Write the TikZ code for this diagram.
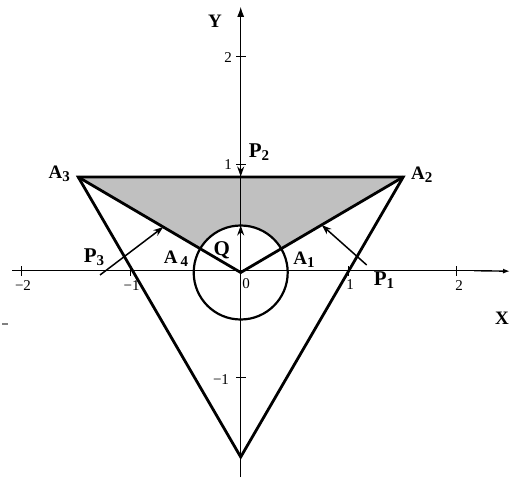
\documentclass[tikz,border=0pt]{standalone}
\usepackage{fontspec}
\setmainfont{Liberation Serif}
\usetikzlibrary{arrows.meta,calc}
\definecolor{regiongray}{RGB}{192,192,192}
\newcommand\subd[1]{\raisebox{-0.35ex}{\fontsize{15}{15}\selectfont #1}}
\tikzset{
  axis/.style={line width=0.8pt,black},
  thick line/.style={line width=2.8pt,black,line join=miter},
  force/.style={line width=1.5pt,-{Stealth[length=10pt,width=7pt]}},
  lbl/.style={inner sep=0pt,font=\fontsize{19}{21}\selectfont\bfseries},
  plbl/.style={inner sep=0pt,font=\fontsize{21}{23}\selectfont\bfseries},
  tlbl/.style={inner sep=0pt,font=\fontsize{15}{17}\selectfont},
}
\begin{document}
\begin{tikzpicture}[x=1pt,y=1pt]
\useasboundingbox (0,0) rectangle (510,477);
% key points
\coordinate (A3) at (78.2,300);
\coordinate (A2) at (403.2,300);
\coordinate (B) at (240.7,20);
\coordinate (C) at (240.7,204.5);
\coordinate (A4) at ($(C)!47pt!(A3)$);
\coordinate (A1) at ($(C)!47pt!(A2)$);
% shaded region
\fill[fill=regiongray] (A3) -- (A2) -- (A1) arc[start angle=30.44,end angle=149.56,radius=47] -- cycle;
% axes
\coordinate (xs) at (12,206.3);
\coordinate (xe) at (474,206.3);
\coordinate (xt) at (510,205.8);
\coordinate (ys) at (240.7,0);
\coordinate (ye) at (240.7,470);
\draw[axis] (xs) -- (xe);
\draw[line width=1.4pt,-{Latex[length=7pt,width=5pt]}] (xe) -- (xt);
\draw[axis,-{Latex[length=10pt,width=7pt]}] (ys) -- (ye);
% ticks
\foreach \x in {21.7,130.7,348.5,456.7} \draw[axis] (\x,201.3) -- (\x,211.3);
\foreach \y in {420.3,313,99.3} \draw[axis] (236,\y) -- (245.5,\y);
% tick labels
\node[tlbl] (tx1) at (23,191) {−2};
\node[tlbl] (tx2) at (131.7,191) {−1};
\node[tlbl] (tx3) at (246,193) {0};
\node[tlbl] (tx4) at (350,192) {1};
\node[tlbl] (tx5) at (459,191) {2};
\node[tlbl] (ty1) at (228,419) {2};
\node[tlbl] (ty2) at (228,312) {1};
\node[tlbl] (ty3) at (221,97.5) {−1};
% triangle and inner lines
\draw[thick line] (A3) -- (A2) -- (B) -- cycle;
\draw[thick line] (A3) -- (C) -- (A2);
% circle
\draw[line width=2.2pt] (C) circle[radius=47];
% forces
\coordinate (p2s) at (240.7,354);
\coordinate (p2e) at (240.7,300.5);
\draw[force] (p2s) -- (p2e);
\coordinate (qs) at (240.7,181);
\coordinate (qe) at (240.7,251.5);
\draw[force] (qs) -- (qe);
\coordinate (p1s) at (366.7,212);
\coordinate (p1e) at (321.7,252);
\draw[force] (p1s) -- (p1e);
\coordinate (p3s) at (100,202);
\coordinate (p3e) at (163.3,250);
\draw[force] (p3s) -- (p3e);
% labels
\node[lbl] (lY) at (215,456) {Y};
\node[lbl] (lX) at (502,159) {X};
\node[plbl] (lP2) at (259,325) {P\subd{2}};
\node[plbl] (lP1) at (384,197) {P\subd{1}};
\node[plbl] (lP3) at (94,220) {P\subd{3}};
\node[plbl] (lQ) at (221.7,227) {Q};
\node[lbl] (lA3) at (59.3,303.5) {A\subd{3}};
\node[lbl] (lA2) at (421.7,302) {A\subd{2}};
\node[lbl] (lA4) at (176,218.7) {A\,\subd{4}};
\node[lbl] (lA1) at (304,217) {A\subd{1}};
% stray mark
\coordinate (d1) at (2,153);
\coordinate (d2) at (8,153);
\draw[line width=1.2pt,gray] (d1) -- (d2);
\end{tikzpicture}
\end{document}
